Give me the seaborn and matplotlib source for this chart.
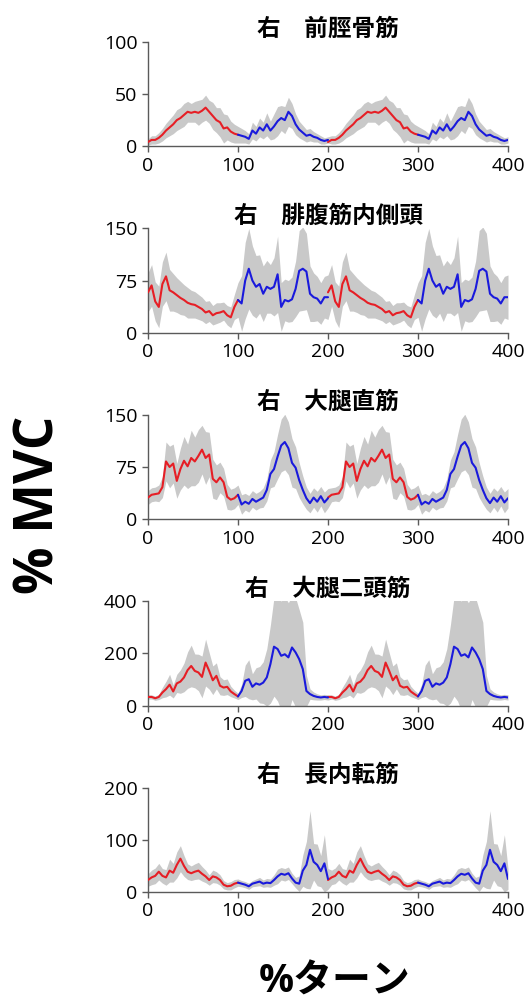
import numpy as np
import pandas as pd
import seaborn as sns
import matplotlib.pyplot as plt

sns.set_style('ticks')
plt.rcParams['font.family'] = ['Open Sans', 'Noto Sans CJK JP', 'DejaVu Sans']
plt.rcParams['text.color'] = 'black'

# 1サイクル分 (0-200 %ターン, 4%刻み) を2回繰り返して表示
x_cycle = list(range(0, 201, 4))

titles = ['右\u3000前脛骨筋', '右\u3000腓腹筋内側頭', '右\u3000大腿直筋',
          '右\u3000大腿二頭筋', '右\u3000長内転筋']
y_max = [100, 150, 150, 400, 200]
y_ticks = [[0, 50, 100], [0, 75, 150], [0, 75, 150], [0, 200, 400], [0, 100, 200]]

# 平均値
mean_ta = [4, 6, 6, 8, 11, 15, 18, 21, 25, 27, 30, 33, 32, 33, 32, 34, 37, 33, 29, 25, 23, 17, 18, 14, 12, 11,
           10, 9, 7, 15, 12, 18, 15, 21, 15, 19, 24, 27, 25, 33, 29, 21, 16, 13, 10, 11, 9, 8, 6, 5, 6]
mean_gm = [58, 68, 45, 37, 70, 81, 61, 58, 54, 50, 47, 43, 41, 40, 37, 34, 29, 31, 25, 28, 29, 31, 25, 22, 37, 47,
           42, 75, 92, 75, 66, 70, 56, 66, 63, 66, 84, 37, 47, 45, 48, 63, 89, 92, 88, 56, 51, 49, 42, 51, 51]
mean_rf = [31, 35, 36, 37, 46, 83, 75, 80, 55, 72, 84, 76, 88, 83, 91, 100, 88, 93, 58, 53, 60, 53, 32, 28, 30, 35,
           21, 25, 22, 29, 25, 28, 31, 42, 65, 72, 90, 106, 111, 102, 81, 74, 56, 42, 30, 23, 31, 25, 33, 24, 30]
mean_bf = [33, 33, 28, 33, 50, 63, 80, 54, 85, 92, 108, 136, 152, 133, 127, 110, 165, 133, 97, 114, 76, 69, 72, 54, 44, 35,
           56, 95, 101, 72, 85, 80, 88, 108, 159, 226, 217, 191, 197, 185, 223, 204, 178, 140, 56, 44, 37, 33, 31, 33, 31]
mean_al = [23, 28, 31, 39, 31, 28, 41, 37, 52, 64, 50, 39, 36, 39, 41, 35, 30, 23, 30, 28, 23, 14, 11, 12, 16, 18,
           16, 14, 11, 16, 18, 20, 16, 18, 17, 23, 30, 35, 33, 36, 26, 18, 16, 41, 52, 81, 58, 52, 40, 55, 25]

# 標準偏差
sd_ta = [3, 4, 4, 5, 6, 7, 8, 9, 10, 10, 11, 10, 9, 10, 12, 11, 12, 11, 13, 12, 14, 14, 12, 10, 9, 8,
         7, 6, 5, 8, 7, 9, 8, 11, 9, 12, 14, 12, 13, 14, 12, 10, 8, 7, 6, 6, 5, 4, 4, 3, 3]
sd_gm = [28, 30, 28, 30, 32, 35, 30, 27, 25, 24, 22, 22, 20, 19, 18, 17, 16, 15, 14, 15, 14, 13, 14, 15, 18, 25,
         40, 55, 58, 50, 45, 42, 40, 38, 35, 42, 55, 35, 30, 30, 32, 40, 58, 60, 55, 40, 35, 32, 30, 30, 32]
sd_rf = [10, 10, 10, 12, 15, 28, 30, 28, 25, 30, 35, 32, 40, 35, 38, 35, 38, 32, 28, 25, 22, 20, 18, 15, 15, 14,
         14, 12, 12, 12, 12, 12, 14, 16, 20, 25, 32, 38, 40, 38, 35, 30, 25, 20, 16, 14, 14, 15, 14, 15, 14]
sd_bf = [8, 8, 8, 10, 20, 30, 40, 25, 35, 45, 55, 70, 80, 65, 70, 80, 90, 70, 55, 50, 35, 30, 30, 20, 15, 12,
         25, 60, 75, 50, 60, 70, 80, 110, 150, 190, 200, 210, 220, 210, 200, 210, 190, 180, 60, 20, 15, 12, 10, 10, 10]
sd_al = [12, 14, 15, 16, 14, 15, 22, 18, 25, 25, 20, 15, 14, 15, 16, 14, 12, 10, 12, 11, 10, 8, 7, 8, 8, 7,
         6, 6, 6, 6, 7, 8, 7, 8, 8, 10, 14, 12, 12, 12, 10, 10, 15, 30, 45, 75, 35, 40, 30, 55, 20]

means = [mean_ta, mean_gm, mean_rf, mean_bf, mean_al]
sds = [sd_ta, sd_gm, sd_rf, sd_bf, sd_al]

RED = '#e61e25'
BLUE = '#1a1adc'
GRAY = '#c9c9c9'
AXC = '#5a5a5a'

fig, axes = plt.subplots(5, 1, figsize=(5.27, 10), dpi=100)
fig.subplots_adjust(left=148/527, right=508/527, top=0.958, bottom=0.108, hspace=0.79)

xc = np.array(x_cycle)
h = 25  # index of x=100
for ax, title, m, s, ym, yt in zip(axes, titles, means, sds, y_max, y_ticks):
    m = np.array(m, dtype=float)
    s = np.array(s, dtype=float)
    # 帯 (平均 ± SD)
    xb = np.concatenate([xc, xc[1:] + 200])
    mb = np.concatenate([m, m[1:]])
    sb = np.concatenate([s, s[1:]])
    ax.fill_between(xb, mb - sb, mb + sb, color=GRAY, linewidth=0, zorder=1)

    # 平均線: 赤(0-100, 200-300), 青(100-200, 300-400)
    parts = []
    for k, off in enumerate([0, 200]):
        parts.append(pd.DataFrame({'x': xc[:h + 1] + off, 'y': m[:h + 1], 'phase': 'r', 'seg': 2 * k}))
        parts.append(pd.DataFrame({'x': xc[h:] + off, 'y': m[h:], 'phase': 'b', 'seg': 2 * k + 1}))
    df = pd.concat(parts, ignore_index=True)
    sns.lineplot(data=df, x='x', y='y', hue='phase', units='seg', estimator=None,
                 palette={'r': RED, 'b': BLUE}, linewidth=1.5, legend=False, ax=ax, zorder=3)

    ax.set_xlim(0, 400)
    ax.set_ylim(0, ym)
    ax.set_xticks([0, 100, 200, 300, 400])
    ax.set_yticks(yt)
    ax.set_xlabel('')
    ax.set_ylabel('')
    ax.set_title(title, fontsize=17, fontweight='bold', pad=4, color='black')
    sns.despine(ax=ax)
    for sp in ['left', 'bottom']:
        ax.spines[sp].set_color(AXC)
        ax.spines[sp].set_linewidth(1.0)
    ax.tick_params(axis='both', colors=AXC, labelcolor='black', labelsize=14, length=4, width=1.0)

fig.text(40/527, 0.495, '% MVC', rotation=90, fontsize=38, fontweight='bold',
         ha='center', va='center')
fig.text(335/527, 1 - 982/1000, '%ターン', fontsize=28, fontweight='bold',
         ha='center', va='center')

plt.savefig('out.png', dpi=100)
